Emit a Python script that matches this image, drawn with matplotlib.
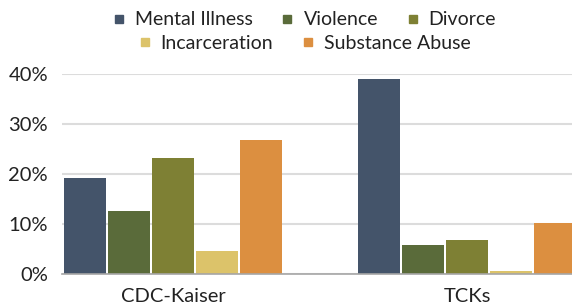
import matplotlib
matplotlib.use("Agg")
import matplotlib.pyplot as plt
from matplotlib.lines import Line2D
import numpy as np

categories = ["CDC-Kaiser", "TCKs"]
series = ["Mental Illness", "Violence", "Divorce", "Incarceration", "Substance Abuse"]
mental_illness = [19.3, 39.1]
violence = [12.6, 5.8]
divorce = [23.3, 6.9]
incarceration = [4.6, 0.7]
substance_abuse = [26.9, 10.3]
yticks = [0, 10, 20, 30, 40]
ytick_labels = ["0%", "10%", "20%", "30%", "40%"]

values = [mental_illness, violence, divorce, incarceration, substance_abuse]
colors = ["#44546A", "#5A6B3A", "#7E8034", "#DCC36A", "#DC8F40"]

plt.rcParams['font.family'] = ['Lato', 'DejaVu Sans']

fig = plt.figure(figsize=(5.72, 3.07), dpi=100)
ax = fig.add_axes([62/572, 1-274/307, 1-62/572, 200/307])

x = np.arange(len(categories))
w = 0.15
for i, (name, vals, c) in enumerate(zip(series, values, colors)):
    ax.bar(x + (i - 2) * w, vals, width=w*0.95, color=c, label=name, zorder=3)

ax.set_xlim(-0.378, 1.357)
ax.set_ylim(0, 40)
ax.set_yticks(yticks)
ax.set_yticklabels(ytick_labels)
ax.set_xticks(x)
ax.set_xticklabels(categories)
ax.yaxis.grid(True, color="#dcdcdc", linewidth=1.5, zorder=0)
ax.set_axisbelow(True)
for s in ["top", "right", "left"]:
    ax.spines[s].set_visible(False)
ax.spines["bottom"].set_color("#a6a6a6")
ax.spines["bottom"].set_linewidth(1.2)
ax.spines["bottom"].set_zorder(4)
ax.tick_params(axis="y", length=0, pad=10, labelsize=14.5, labelcolor="#222222")
ax.tick_params(axis="x", length=0, pad=10, labelsize=14.5, labelcolor="#222222")

handles = [Line2D([0], [0], marker="s", linestyle="none", markersize=6,
                  markerfacecolor=c, markeredgecolor=c) for c in colors]
common = dict(loc="center", frameon=False, fontsize=14, handlelength=0.55,
              handletextpad=0.55, columnspacing=1.5, borderpad=0, labelcolor="#222222")
leg1 = fig.legend(handles[:3], series[:3], bbox_to_anchor=(0.533, 0.935), ncol=3, **common)
leg2 = fig.legend(handles[3:], series[3:], bbox_to_anchor=(0.533, 0.858), ncol=2, **common)

fig.savefig("out.png", dpi=100)
